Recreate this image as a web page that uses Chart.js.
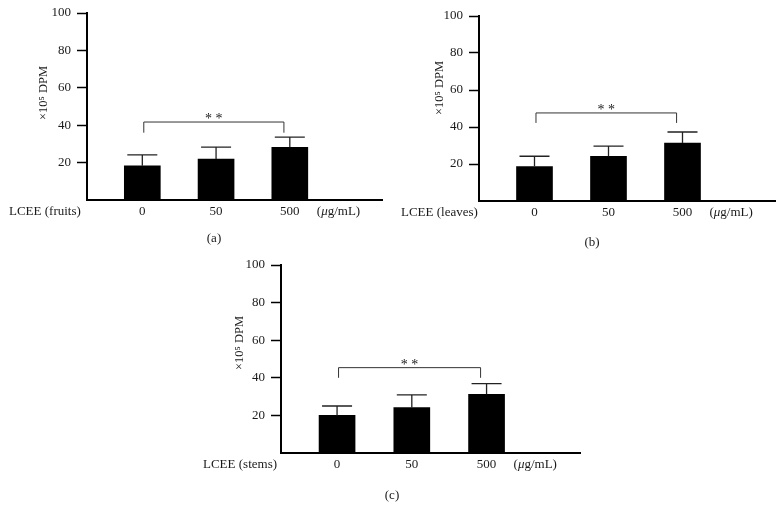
<!DOCTYPE html>
<html>
<head>
<meta charset="utf-8">
<script src="https://cdn.jsdelivr.net/npm/chart.js@4.4.1/dist/chart.umd.min.js"></script>
<style>
  body { margin: 0; background: #fff; }
  #wrap { position: relative; width: 783px; height: 522px; }
  canvas { position: absolute; }
</style>
</head>
<body>
<div id="wrap">
  <canvas id="chartA" width="390" height="255" style="left:0;top:0;width:390px;height:255px"></canvas>
  <canvas id="chartB" width="393" height="255" style="left:390px;top:0;width:393px;height:255px"></canvas>
  <canvas id="chartC" width="400" height="267" style="left:200px;top:255px;width:400px;height:267px"></canvas>
</div>
<script>
// doses (µg/mL) on the x axis
const doses = ['0', '50', '500'];
const yTicks = [20, 40, 60, 80, 100];

// means and upper error (x10^5 DPM)
const fruitsMean = [18.3, 21.9, 28.2];
const fruitsErr = [5.8, 6.4, 5.4];
const leavesMean = [18.6, 24.2, 31.3];
const leavesErr = [5.6, 5.5, 6.0];
const stemsMean = [20.0, 24.1, 31.2];
const stemsErr = [5.0, 6.8, 5.7];

// significance bracket (0 vs 500), level of top line and of leg ends
const sigTop = [41.7, 47.6, 45.4];
const sigLeg = [36.0, 42.2, 40.0];

const FONT = "'Liberation Serif', 'DejaVu Serif', serif";
const INK = '#1a1a1a';
const X_MIN = -0.75, X_MAX = 3.25;

const annot = {
  id: 'annot',
  afterDatasetsDraw(chart, args, o) {
    const { ctx, chartArea: a, scales: { x, y } } = chart;
    ctx.save();
    // error bars (upper only)
    ctx.strokeStyle = '#222';
    ctx.lineWidth = 1.3;
    o.mean.forEach((m, i) => {
      const cx = x.getPixelForValue(i);
      const y0 = y.getPixelForValue(m);
      const y1 = y.getPixelForValue(m + o.err[i]);
      ctx.beginPath();
      ctx.moveTo(cx, y0); ctx.lineTo(cx, y1);
      ctx.moveTo(cx - 15, y1); ctx.lineTo(cx + 15, y1);
      ctx.stroke();
    });
    // bracket
    const bl = x.getPixelForValue(0.02), br = x.getPixelForValue(1.92);
    const bt = y.getPixelForValue(o.top), bb = y.getPixelForValue(o.leg);
    ctx.lineWidth = 1;
    ctx.strokeStyle = '#333';
    ctx.beginPath();
    ctx.moveTo(bl, bb); ctx.lineTo(bl, bt); ctx.lineTo(br, bt); ctx.lineTo(br, bb);
    ctx.stroke();
    ctx.fillStyle = INK;
    ctx.font = '14px ' + FONT;
    ctx.textAlign = 'center';
    ctx.textBaseline = 'alphabetic';
    ctx.fillText('* *', (bl + br) / 2, bt + 1);

    // row labels
    ctx.font = '13px ' + FONT;
    const rowY = a.bottom + 15;
    ctx.textAlign = 'left';
    ctx.fillText(o.group, a.left - 78, rowY);
    let ux = x.getPixelForValue(2) + 27;
    ctx.fillText('(', ux, rowY); ux += ctx.measureText('(').width;
    ctx.font = 'italic 13px ' + FONT;
    ctx.fillText('\u03bc', ux, rowY); ux += ctx.measureText('\u03bc').width;
    ctx.font = '13px ' + FONT;
    ctx.fillText('g/mL)', ux, rowY);

    // caption
    ctx.textAlign = 'center';
    ctx.fillText(o.caption, a.left + o.capDx, a.bottom + o.capDy);

    // y title
    ctx.translate(a.left + o.titleDx, a.top + o.titleDy);
    ctx.rotate(-Math.PI / 2);
    ctx.font = '12.5px ' + FONT;
    ctx.textBaseline = 'middle';
    ctx.fillText('\u00d710\u2075 DPM', 0, 0);
    ctx.restore();
  }
};

function makeChart(id, mean, err, k, group, caption, box) {
  return new Chart(document.getElementById(id), {
    type: 'bar',
    data: {
      datasets: [{
        data: doses.map((d, i) => ({ x: i, y: mean[i] })),
        backgroundColor: '#000',
        borderWidth: 0,
        barThickness: 36
      }]
    },
    plugins: [annot],
    options: {
      responsive: false,
      animation: false,
      devicePixelRatio: 1,
      layout: { padding: { left: 0, top: box.top, right: box.right, bottom: 0 } },
      plugins: {
        legend: { display: false },
        tooltip: { enabled: false },
        annot: {
          mean, err, top: sigTop[k], leg: sigLeg[k], group, caption,
          capDx: box.capDx, capDy: box.capDy, titleDx: box.titleDx, titleDy: box.titleDy
        }
      },
      scales: {
        x: {
          type: 'linear',
          offset: false,
          bounds: 'data',
          min: X_MIN,
          max: X_MAX,
          grid: { display: false, drawTicks: false, offset: false },
          border: { display: true, color: '#000', width: 2 },
          afterDataLimits: s => { s.min = X_MIN; s.max = X_MAX; },
          afterBuildTicks: s => { s.ticks = doses.map((d, i) => ({ value: i })); s.min = X_MIN; s.max = X_MAX; },
          afterFit: s => { s.height = box.xh; s.paddingLeft = 0; s.paddingRight = 0; },
          ticks: {
            padding: 4,
            color: INK,
            font: { family: FONT, size: 13 },
            callback: v => doses[v] ?? ''
          }
        },
        y: {
          min: 0,
          max: 100,
          afterBuildTicks: s => { s.ticks = [0].concat(yTicks).map(v => ({ value: v })); },
          afterFit: s => { s.width = box.yw; s.paddingTop = 0; s.paddingBottom = 0; },
          grid: {
            drawOnChartArea: false,
            drawTicks: true,
            tickLength: 10,
            tickWidth: 1.5,
            tickColor: c => (c.tick && c.tick.value === 0) ? 'rgba(0,0,0,0)' : '#000'
          },
          border: { display: true, color: '#000', width: 2 },
          ticks: {
            padding: 6,
            color: INK,
            font: { family: FONT, size: 13 },
            callback: v => v === 0 ? '' : v
          }
        }
      }
    }
  });
}

makeChart('chartA', fruitsMean, fruitsErr, 0, 'LCEE (fruits)', '(a)',
  { top: 13, right: 8, yw: 87, xh: 55, capDx: 127, capDy: 42, titleDx: -43, titleDy: 80 });
makeChart('chartB', leavesMean, leavesErr, 1, 'LCEE (leaves)', '(b)',
  { top: 16, right: 8, yw: 89, xh: 54, capDx: 113, capDy: 45, titleDx: -39, titleDy: 72 });
makeChart('chartC', stemsMean, stemsErr, 2, 'LCEE (stems)', '(c)',
  { top: 10, right: 20, yw: 81, xh: 69, capDx: 111, capDy: 46, titleDx: -41, titleDy: 78 });
</script>
</body>
</html>
